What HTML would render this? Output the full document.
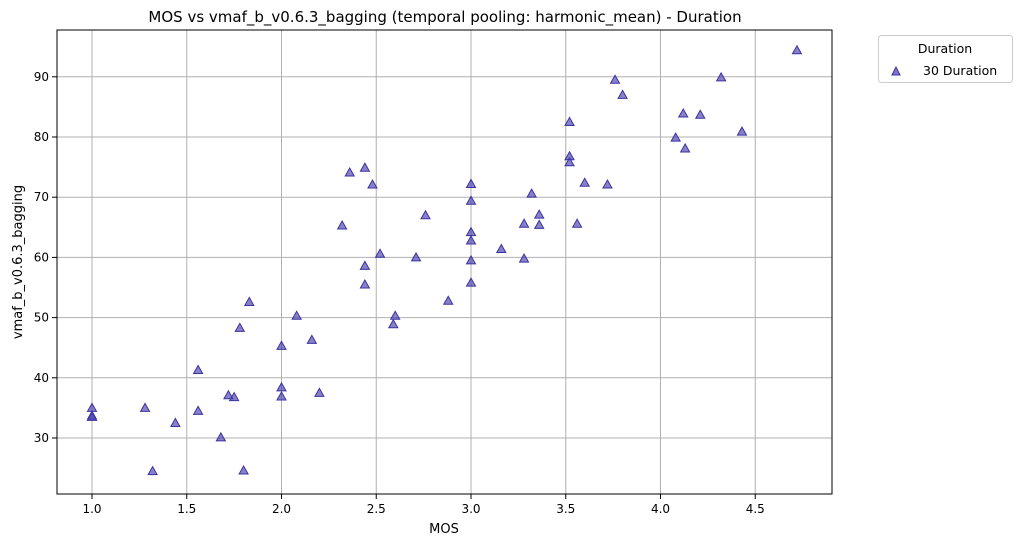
<!DOCTYPE html>
<html><head><meta charset="utf-8"><style>
body{margin:0;background:#fff;font-family:"Liberation Sans","DejaVu Sans",sans-serif;}
svg text{font-family:"DejaVu Sans","Liberation Sans",sans-serif;}
</style></head><body>
<svg id="c" width="1020" height="545" xmlns="http://www.w3.org/2000/svg">
<rect width="1020" height="545" fill="#fff"/>
<text x="445" y="22" font-size="15" text-anchor="middle">MOS vs vmaf_b_v0.6.3_bagging (temporal pooling: harmonic_mean) - Duration</text>
<g id="grid"></g><g id="pts"></g>
<rect x="57" y="30" width="775" height="464" fill="none" stroke="#000" stroke-width="1"/>
<g id="ticks"></g>
<text x="444" y="533" font-size="13" text-anchor="middle">MOS</text>
<text x="22" y="262" font-size="13" text-anchor="middle" transform="rotate(-90 22 262)">vmaf_b_v0.6.3_bagging</text>
<g>
<rect x="878.5" y="35.5" width="134" height="47" rx="3" fill="#fff" stroke="#ccc"/>
<text x="945" y="53" font-size="12.5" text-anchor="middle">Duration</text>
<polygon points="896,67 892,75 900,75" fill="rgba(72,61,170,0.7)" stroke="#3b32a0"/>
<text x="923" y="75" font-size="12.5">30 Duration</text>
</g>
</svg>
<script>
const xs=[1.0,1.0,1.0,1.28,1.32,1.44,1.56,1.56,1.68,1.72,1.75,1.78,1.80,1.83,2.0,2.0,2.0,2.08,2.16,2.2,2.32,2.36,2.44,2.48,2.44,2.44,2.52,2.59,2.6,2.71,2.76,2.88,3.0,3.0,3.0,3.0,3.0,3.0,3.16,3.28,3.28,3.32,3.36,3.36,3.52,3.52,3.52,3.56,3.6,3.72,3.76,3.8,4.08,4.12,4.13,4.21,4.32,4.43,4.72];
const ys=[35,33.7,33.5,35,24.5,32.5,41.3,34.5,30.1,37.1,36.8,48.3,24.6,52.6,45.3,38.4,36.9,50.3,46.3,37.5,65.3,74.1,74.9,72.1,58.6,55.5,60.6,48.9,50.3,60,67,52.8,72.2,69.4,64.2,62.8,59.5,55.8,61.4,65.6,59.8,70.6,67.1,65.4,82.5,76.8,75.8,65.6,72.4,72.1,89.5,87,79.9,83.9,78.1,83.7,89.9,80.9,94.4];
const xTicks=[1.0,1.5,2.0,2.5,3.0,3.5,4.0,4.5];
const yTicks=[30,40,50,60,70,80,90];
const X=v=>92+(v-1)*189.5, Y=v=>438-(v-30)*6.02;
const NS="http://www.w3.org/2000/svg";
const g=document.getElementById('grid'),t=document.getElementById('ticks'),p=document.getElementById('pts');
function mk(tag,a,par){const e=document.createElementNS(NS,tag);for(const k in a)e.setAttribute(k,a[k]);par.appendChild(e);return e;}
xTicks.forEach(v=>{const x=X(v);
 const l=mk('line',{x1:x,x2:x,y1:30,y2:494,stroke:'#b0b0b0','stroke-width':1},g);
 
 
 mk('line',{x1:x,x2:x,y1:494,y2:499,stroke:'#000'},t);
 const tx=mk('text',{x:x,y:513,'font-size':12,'text-anchor':'middle'},t);tx.textContent=v.toFixed(1);
 
 });
yTicks.forEach(v=>{const y=Y(v);
 const l=mk('line',{x1:57,x2:832,y1:y,y2:y,stroke:'#b0b0b0','stroke-width':1},g);
 
 
 mk('line',{x1:52,x2:57,y1:y,y2:y,stroke:'#000'},t);
 const tx=mk('text',{x:49,y:y+4,'font-size':12,'text-anchor':'end'},t);tx.textContent=v;
 
 });
xs.forEach((v,i)=>{const x=X(v),y=Y(ys[i]);
 const m=mk('polygon',{points:`${x},${y-4.5} ${x-4.5},${y+3.5} ${x+4.5},${y+3.5}`,fill:'rgba(72,61,170,0.65)',stroke:'#3b32a0','stroke-width':1},p);
 
 });
</script>
</body></html>
